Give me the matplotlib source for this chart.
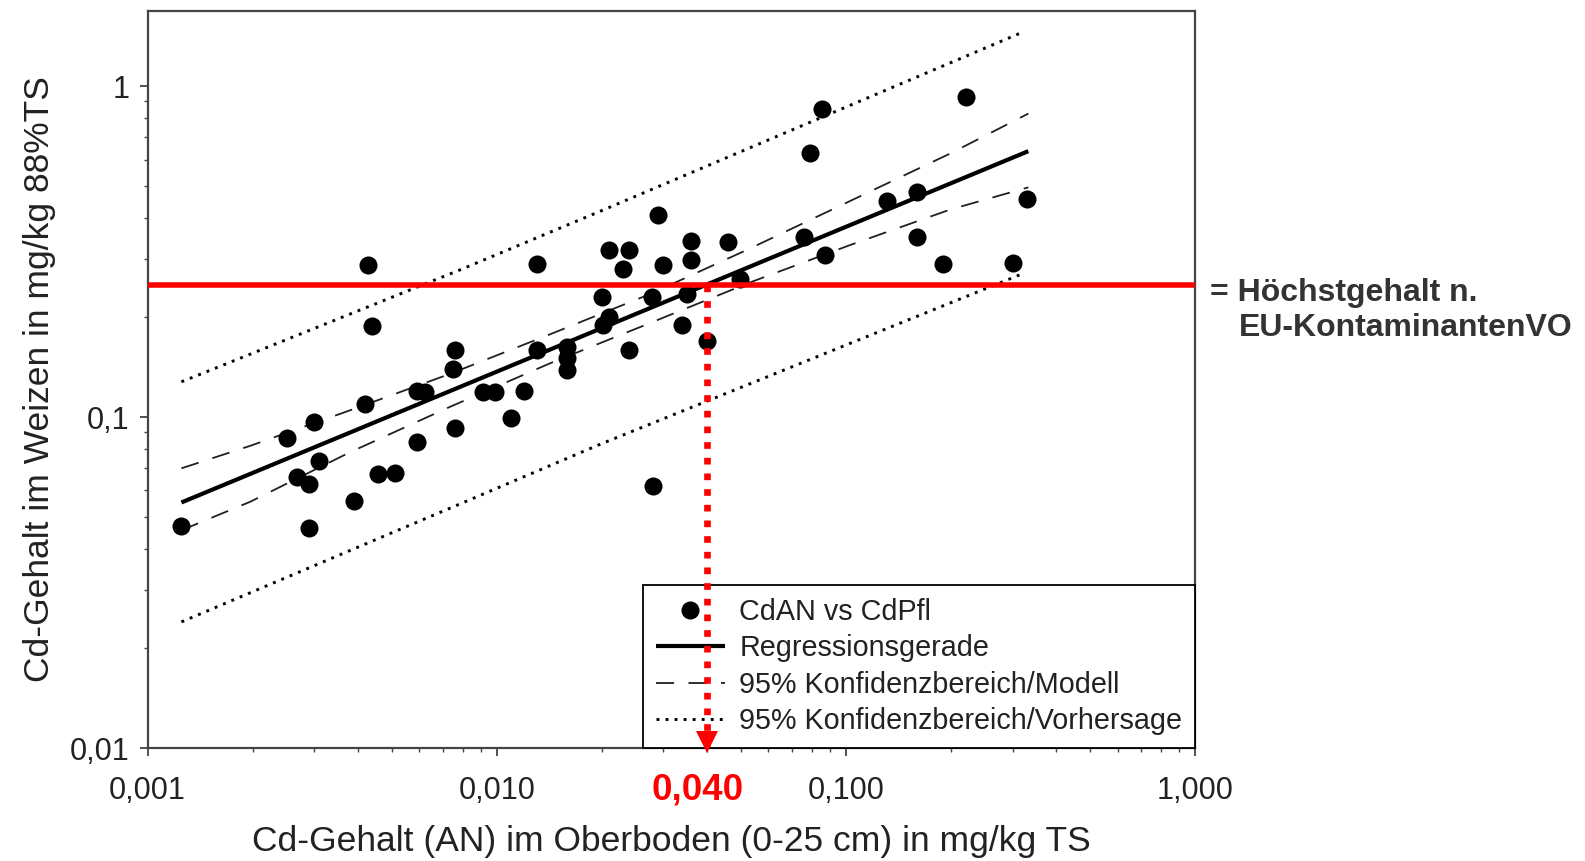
import numpy as np
import matplotlib
matplotlib.use('Agg')
import matplotlib.pyplot as plt
import matplotlib.transforms as mtransforms
from matplotlib.ticker import FixedLocator, LogLocator, NullFormatter

plt.rcParams['font.family'] = ['Liberation Sans', 'DejaVu Sans']

# Messwerte: Cd im Oberboden (AN) vs. Cd im Weizen
cd_an = [0.00125, 0.0025, 0.00268, 0.0029, 0.0029, 0.0030, 0.0031, 0.00389, 0.0042, 0.00429,
         0.0044, 0.00458, 0.00511, 0.0059, 0.00623, 0.0059, 0.00748, 0.0076, 0.0076, 0.00915,
         0.0099, 0.0110, 0.0120, 0.0130, 0.0130, 0.0159, 0.0159, 0.0159, 0.0200, 0.0201,
         0.0209, 0.0210, 0.0230, 0.0240, 0.0240, 0.0278, 0.0281, 0.0290, 0.0300, 0.0340,
         0.0350, 0.0359, 0.0359, 0.0400, 0.0460, 0.0497, 0.0760, 0.0789, 0.0852, 0.0871,
         0.1308, 0.1602, 0.1602, 0.1900, 0.2203, 0.3004, 0.3308]
cd_pfl = [0.0469, 0.0866, 0.0657, 0.0626, 0.0461, 0.0963, 0.0738, 0.0558, 0.1094, 0.2876,
          0.1886, 0.0671, 0.0678, 0.1200, 0.1192, 0.0838, 0.1393, 0.1600, 0.0924, 0.1192,
          0.1190, 0.0997, 0.1200, 0.1600, 0.2891, 0.1630, 0.1507, 0.1386, 0.2298, 0.1895,
          0.2008, 0.3193, 0.2792, 0.3193, 0.1593, 0.2307, 0.0620, 0.4073, 0.2876, 0.1895,
          0.2362, 0.3406, 0.2979, 0.1702, 0.3383, 0.2622, 0.3503, 0.6257, 0.8498, 0.3084,
          0.4498, 0.4790, 0.3503, 0.2897, 0.9277, 0.2911, 0.4574]

# Regressionsgerade (Endpunkte)
reg_x = [0.00125, 0.333]
reg_y = [0.0552, 0.636]

# 95% Konfidenzbereich Modell
ci_x = [0.00125, 0.00197, 0.0038, 0.00735, 0.0142, 0.0275, 0.0531, 0.1027, 0.1987, 0.333]
ci_upper = [0.0700, 0.0819, 0.1048, 0.1351, 0.1778, 0.2354, 0.3231, 0.4494, 0.6253, 0.8259]
ci_lower = [0.0455, 0.0555, 0.0783, 0.1074, 0.1453, 0.1924, 0.2551, 0.3308, 0.4235, 0.4945]

# 95% Konfidenzbereich Vorhersage
pi_x = [0.00125, 0.0079, 0.0198, 0.322]
pi_upper = [0.1278, 0.2792, 0.4188, 1.458]
pi_lower = [0.02405, 0.0548, 0.0828, 0.2716]

limit_value = 0.25   # Hoechstgehalt
cut_x = 0.040

x_ticks = [0.001, 0.01, 0.1, 1.0]
x_ticklabels = ['0,001', '0,010', '0,100', '1,000']
y_ticks = [0.01, 0.1, 1.0]
y_ticklabels = ['0,01', '0,1', '1']

txt = '#222222'

fig = plt.figure(figsize=(15.85, 8.61), dpi=100)
ax = fig.add_axes([0.0931, 0.1312, 0.6609, 0.856])
ax.set_xscale('log')
ax.set_yscale('log')
ax.set_xlim(0.001, 1.0)
ax.set_ylim(0.01, 1.686)

ax.plot(cd_an, cd_pfl, 'o', color='black', ms=13, mew=0, label='CdAN vs CdPfl', zorder=4)
ax.plot(reg_x, reg_y, '-', color='black', lw=3, solid_capstyle='butt', label='Regressionsgerade', zorder=3)
ax.plot(ci_x, ci_upper, color='#202020', lw=1.3, linestyle=(0, (10, 8)), label='95% Konfidenzbereich/Modell', zorder=3)
ax.plot(ci_x, ci_lower, color='#202020', lw=1.3, linestyle=(0, (10, 8)), zorder=3)
ax.plot(pi_x, pi_upper, color='black', lw=2.1, linestyle=(0, (1, 2.1)), label='95% Konfidenzbereich/Vorhersage', zorder=3)
ax.plot(pi_x, pi_lower, color='black', lw=2.1, linestyle=(0, (1, 2.1)), zorder=3)

leg = ax.legend(loc='lower right', borderaxespad=0, fancybox=False, edgecolor='black',
                framealpha=1, fontsize=20.7, numpoints=1, handlelength=2.4,
                handletextpad=0.5, labelspacing=0.29, borderpad=0.45)
leg.get_frame().set_linewidth(1.3)
for t in leg.get_texts():
    t.set_color(txt)

# Grenzwert und Ablesung
ax.axhline(limit_value, color='red', lw=4, zorder=6)
ax.plot([cut_x, cut_x], [limit_value, 0.01], color='red', lw=4.8,
        linestyle=(0, (1, 1.35)), solid_capstyle='butt', zorder=6)
trans = mtransforms.blended_transform_factory(ax.transData, ax.transAxes)
trans_off = mtransforms.offset_copy(trans, fig=fig, y=4.3, units='points')
ax.plot([cut_x], [0], marker='v', ms=16, color='red', mew=0, transform=trans_off,
        clip_on=False, zorder=7)

ax.xaxis.set_major_locator(FixedLocator(x_ticks))
ax.xaxis.set_minor_locator(LogLocator(base=10, subs=np.arange(2, 10)))
ax.xaxis.set_minor_formatter(NullFormatter())
ax.set_xticklabels(x_ticklabels)
ax.yaxis.set_major_locator(FixedLocator(y_ticks))
ax.yaxis.set_minor_locator(LogLocator(base=10, subs=np.arange(2, 10)))
ax.yaxis.set_minor_formatter(NullFormatter())
ax.set_yticklabels(y_ticklabels)

ax.tick_params(which='major', direction='out', length=6, width=1.3, labelsize=22,
               labelcolor=txt, color='#444444')
ax.tick_params(axis='x', which='major', pad=14)
ax.tick_params(axis='y', which='major', pad=7)
ax.tick_params(which='minor', direction='out', length=3, width=1, color='#444444')
for s in ax.spines.values():
    s.set_linewidth(1.6)
    s.set_color('#444444')

ax.set_xlabel('Cd-Gehalt (AN) im Oberboden (0-25 cm) in mg/kg TS', fontsize=25.5, color=txt, labelpad=14)
ax.set_ylabel('Cd-Gehalt im Weizen in mg/kg 88%TS', fontsize=25.5, color=txt, labelpad=10)

# "0,040" unter der Achse, leicht nach links versetzt
trans_lbl = mtransforms.offset_copy(trans, fig=fig, x=-7, units='points')
ax.text(cut_x, -0.033, '0,040', transform=trans_lbl, color='red', fontsize=26.5,
        fontweight='bold', ha='center', va='top')
fig.text(1210 / 1585, 1 - 293 / 861, '= Höchstgehalt n.', fontsize=23, fontweight='bold',
         color='#333333', va='center', ha='left')
fig.text(1239 / 1585, 1 - 328.5 / 861, 'EU-KontaminantenVO', fontsize=23, fontweight='bold',
         color='#333333', va='center', ha='left')

fig.savefig('out.png', dpi=100)
